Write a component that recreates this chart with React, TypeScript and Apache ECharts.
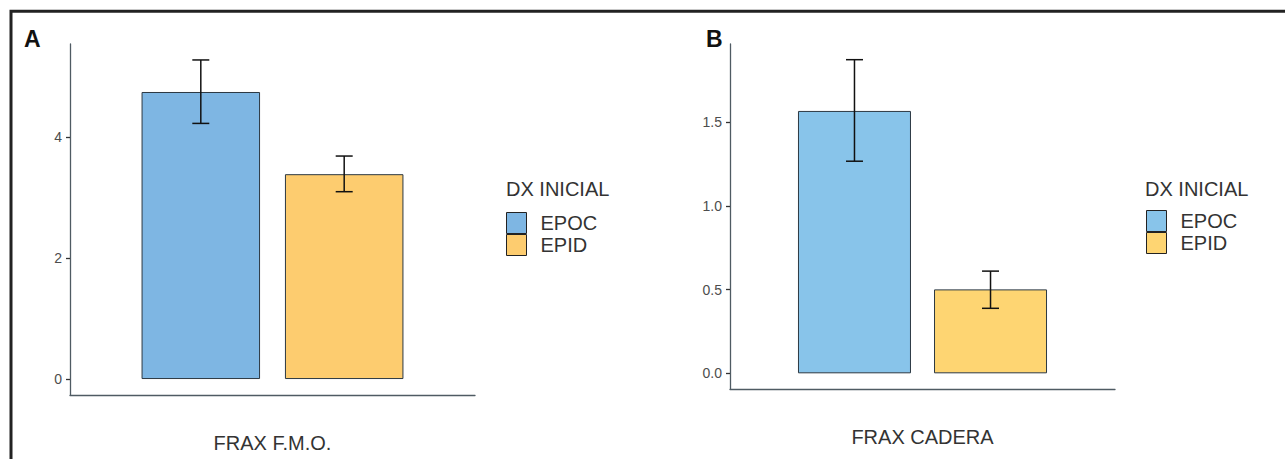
import React, { useEffect, useRef } from "react";
import * as echarts from "echarts";

// ---- data ----
const groups = ["EPOC", "EPID"];
const categoriesA = ["FRAX F.M.O."];
const categoriesB = ["FRAX CADERA"];
const meanA = [4.75, 3.39];
const lowA = [4.23, 3.1];
const highA = [5.28, 3.69];
const meanB = [1.566, 0.501];
const lowB = [1.266, 0.388];
const highB = [1.872, 0.61];
const yTicksA = [0, 2, 4];
const yTicksB = [0, 0.5, 1.0, 1.5];
const legendTitle = "DX INICIAL";

// ---- styles ----
const FONT = "Liberation Sans, Arial, Helvetica, sans-serif";
const colorsA = ["#7EB6E3", "#FDCC6F"];
const colorsB = ["#88C4EA", "#FED572"];
const axisColor = "#4f5b63";
const barBorder = "#2c3842";

function expandRange(high: number[]) {
  const mx = Math.max(...high);
  const pad = 0.05 * mx;
  return { min: -pad, max: mx + pad };
}

export default function App() {
  const ref = useRef<HTMLDivElement>(null);
  useEffect(() => {
    if (!ref.current) return;
    const chart = echarts.init(ref.current, undefined, { renderer: "svg" });

    const panels = [
      {
        cats: categoriesA,
        mean: meanA,
        low: lowA,
        high: highA,
        ticks: yTicksA,
        colors: colorsA,
        grid: { left: 70, top: 44, width: 405, height: 351 },
        barWidth: 118.5,
        gapRatio: 0.21,
        fmt: (v: number) => String(v),
        labelMargin: 38,
      },
      {
        cats: categoriesB,
        mean: meanB,
        low: lowB,
        high: highB,
        ticks: yTicksB,
        colors: colorsB,
        grid: { left: 730, top: 44, width: 385, height: 345 },
        barWidth: 113,
        gapRatio: 0.204,
        fmt: (v: number) => v.toFixed(1),
        labelMargin: 38,
      },
    ];

    const grid: any[] = [];
    const xAxis: any[] = [];
    const yAxis: any[] = [];
    const series: any[] = [];

    panels.forEach((p, pi) => {
      grid.push(p.grid);
      const r = expandRange(p.high);
      xAxis.push({
        type: "category",
        gridIndex: pi,
        data: p.cats,
        axisLine: { onZero: false, lineStyle: { color: axisColor, width: 1.3 } },
        axisTick: { alignWithLabel: true, length: 4, lineStyle: { color: "#333", width: 1.3 } },
        axisLabel: { margin: p.labelMargin, fontSize: 20, color: "#333", fontFamily: FONT },
        splitLine: { show: false },
      });
      yAxis.push({
        type: "value",
        gridIndex: pi,
        min: r.min,
        max: r.max,
        axisLine: { show: true, lineStyle: { color: axisColor, width: 1.3 } },
        axisTick: { show: true, length: 4, customValues: p.ticks, lineStyle: { color: "#333", width: 1.3 } },
        axisLabel: {
          customValues: p.ticks,
          formatter: p.fmt,
          fontSize: 14,
          color: "#4d4d4d",
          margin: 8,
          fontFamily: FONT,
        },
        splitLine: { show: false },
      });
      groups.forEach((g, gi) => {
        series.push({
          type: "bar",
          name: g,
          xAxisIndex: pi,
          yAxisIndex: pi,
          data: [p.mean[gi]],
          barWidth: p.barWidth,
          barGap: `${p.gapRatio * 100}%`,
          itemStyle: { color: p.colors[gi], borderColor: barBorder, borderWidth: 1 },
        });
      });
      const offset = (p.barWidth * (1 + p.gapRatio)) / 2;
      series.push({
        type: "custom",
        xAxisIndex: pi,
        yAxisIndex: pi,
        data: groups.map((_, gi) => [0, p.low[gi], p.high[gi], gi]),
        renderItem: (_params: any, api: any) => {
          const gi = api.value(3);
          const c0 = api.coord([api.value(0), api.value(1)]);
          const c1 = api.coord([api.value(0), api.value(2)]);
          const x = c0[0] + (gi === 0 ? -offset : offset);
          const half = 8.5;
          const style = { stroke: "#111", lineWidth: 1.5 };
          return {
            type: "group",
            children: [
              { type: "line", shape: { x1: x, y1: c0[1], x2: x, y2: c1[1] }, style },
              { type: "line", shape: { x1: x - half, y1: c0[1], x2: x + half, y2: c0[1] }, style },
              { type: "line", shape: { x1: x - half, y1: c1[1], x2: x + half, y2: c1[1] }, style },
            ],
          };
        },
        z: 5,
      });
    });

    const legendCommon = {
      orient: "vertical",
      icon: "rect",
      itemWidth: 20,
      itemHeight: 21,
      itemGap: 0,
      padding: 0,
      selectedMode: false,
      itemStyle: { borderColor: "#222", borderWidth: 1 },
      textStyle: { fontSize: 20, color: "#333", fontFamily: FONT, padding: [0, 0, 0, 9] },
    };

    chart.setOption({
      animation: false,
      backgroundColor: "#fff",
      grid,
      xAxis,
      yAxis,
      series,
      title: [
        { text: legendTitle, left: 506, top: 179, padding: 0, textStyle: { fontSize: 20, fontWeight: "normal", color: "#333", fontFamily: FONT } },
        { text: legendTitle, left: 1145, top: 179, padding: 0, textStyle: { fontSize: 20, fontWeight: "normal", color: "#333", fontFamily: FONT } },
      ],
      legend: [
        {
          ...legendCommon,
          left: 506,
          top: 212,
          data: groups.map((g, gi) => ({ name: g, itemStyle: { color: colorsA[gi] } })),
        },
        {
          ...legendCommon,
          left: 1146,
          top: 210,
          data: groups.map((g, gi) => ({ name: g, itemStyle: { color: colorsB[gi] } })),
        },
      ],
      graphic: [
        {
          type: "rect",
          shape: { x: 11, y: 11.3, width: 1320, height: 500 },
          style: { fill: "none", stroke: "#222", lineWidth: 3 },
          silent: true,
        },
        {
          type: "text",
          x: 24,
          y: 27,
          style: { text: "A", font: `bold 23px ${FONT}`, fill: "#111", verticalAlign: "top" },
        },
        {
          type: "text",
          x: 706,
          y: 27,
          style: { text: "B", font: `bold 23px ${FONT}`, fill: "#111", verticalAlign: "top" },
        },
      ],
    });
    return () => chart.dispose();
  }, []);
  return (
    <div
      ref={ref}
      style={{ position: "fixed", left: 0, top: 0, width: 1285, height: 459 }}
    />
  );
}
